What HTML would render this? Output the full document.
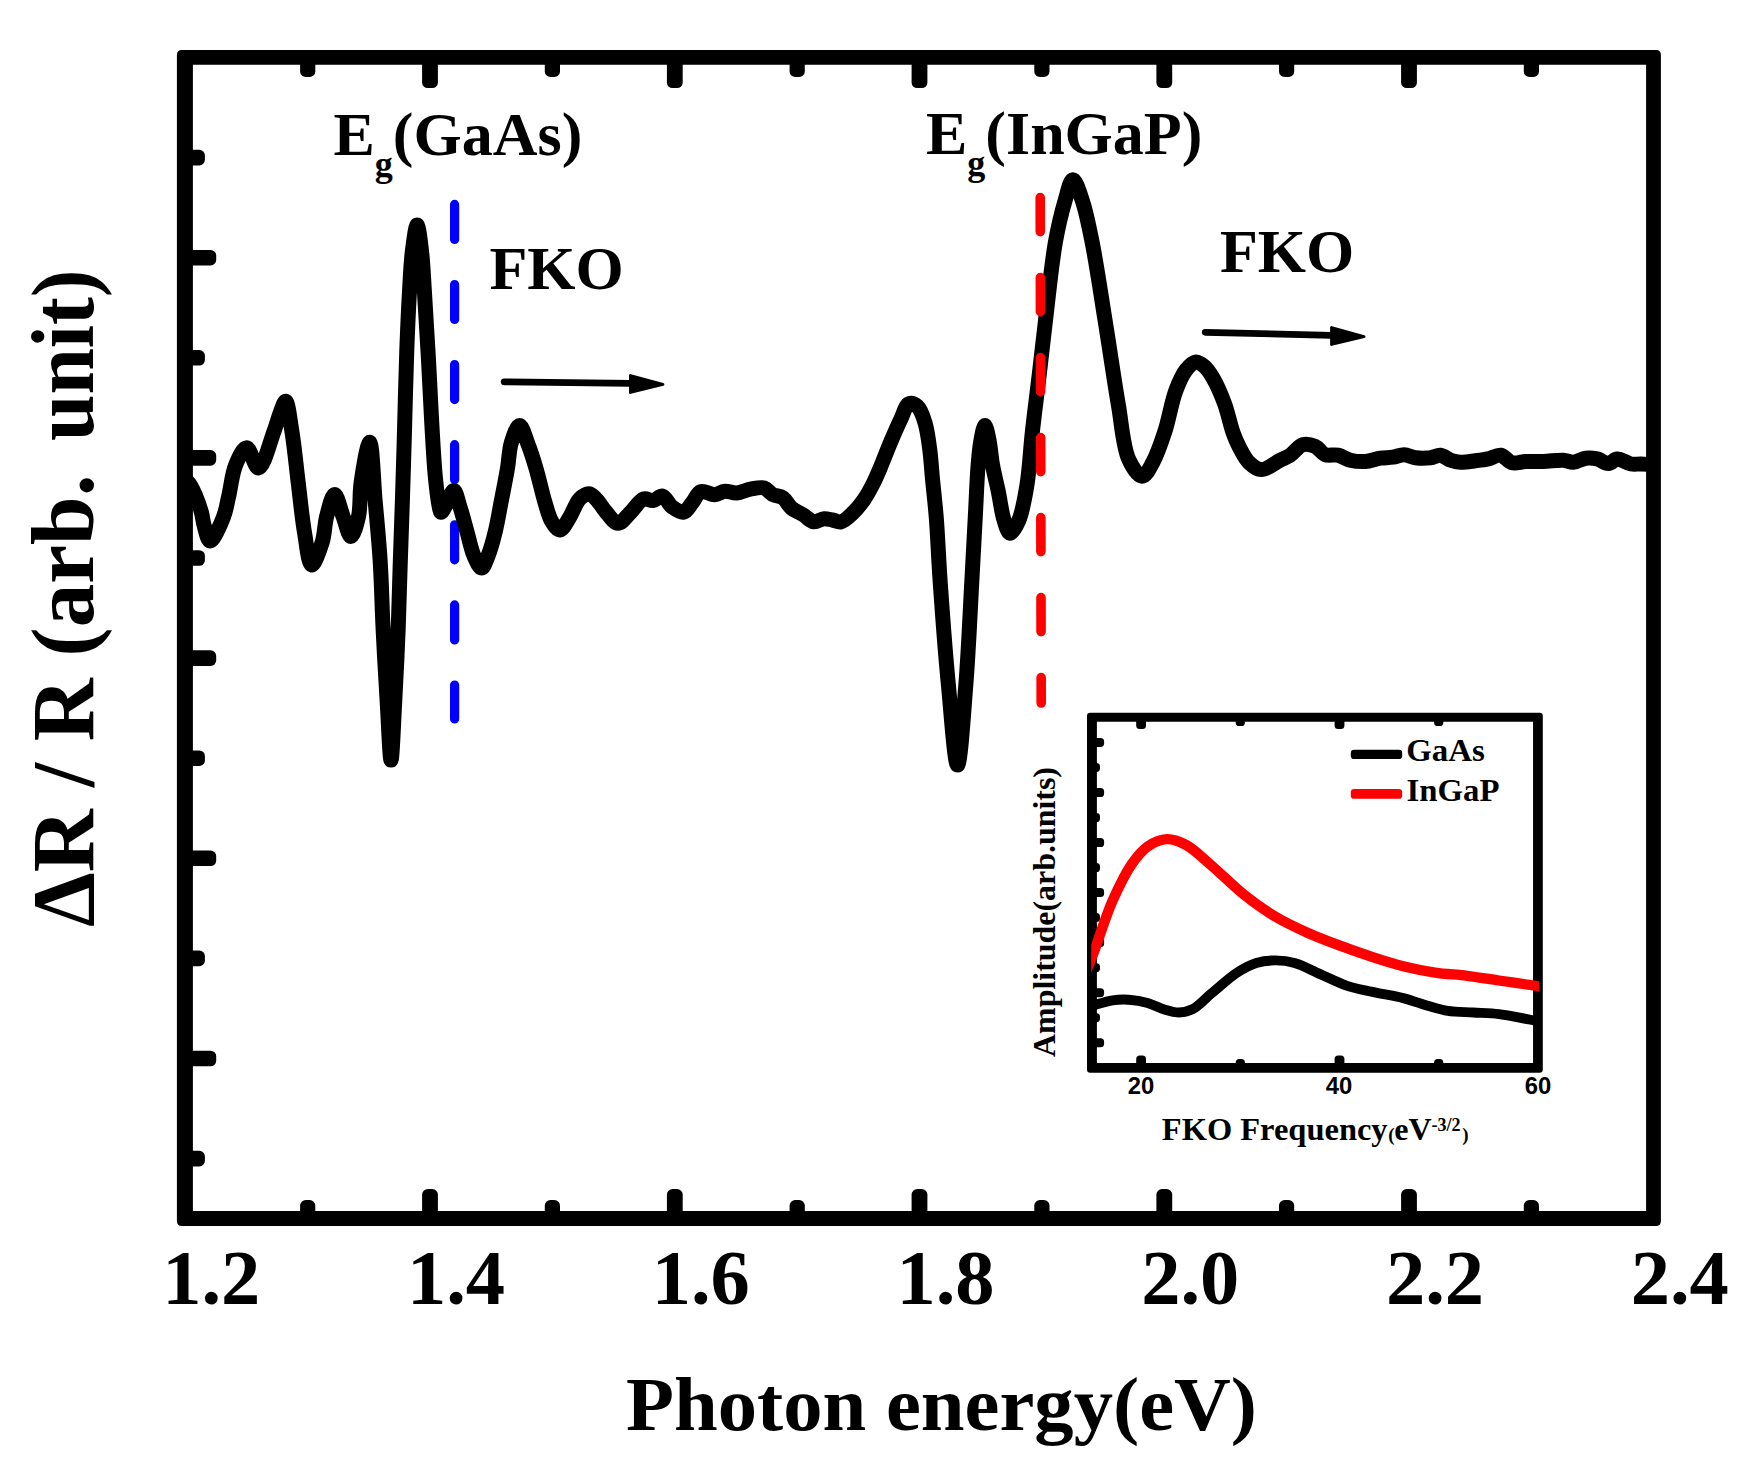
<!DOCTYPE html>
<html lang="en"><head><meta charset="utf-8"><title>Photoreflectance spectrum</title>
<style>html,body{margin:0;padding:0;background:#fff}svg{display:block}text{font-family:"Liberation Serif",serif;font-weight:bold;fill:#000}.ss{font-family:"Liberation Sans",sans-serif}</style></head><body>
<svg width="1756" height="1472" viewBox="0 0 1756 1472">
<rect width="1756" height="1472" fill="#fff"/>
<path fill="#000" fill-rule="evenodd" d="M181.9 49.9H1655.9Q1660.9 49.9 1660.9 54.9V1221Q1660.9 1226 1655.9 1226H181.9Q176.9 1226 176.9 1221V54.9Q176.9 49.9 181.9 49.9Z M192.9 64.8H1646.1V1211H192.9Z"/>
<g fill="#000">
<rect x="300.1" y="55" width="15.2" height="22.0" rx="5.6"/>
<rect x="300.1" y="1200.0" width="15.2" height="21.0" rx="5.6"/>
<rect x="422.1" y="55" width="15.8" height="33.1" rx="5.6"/>
<rect x="422.1" y="1189.0" width="15.8" height="32.0" rx="5.6"/>
<rect x="544.8" y="55" width="15.2" height="22.0" rx="5.6"/>
<rect x="544.8" y="1200.0" width="15.2" height="21.0" rx="5.6"/>
<rect x="666.9" y="55" width="15.8" height="33.1" rx="5.6"/>
<rect x="666.9" y="1189.0" width="15.8" height="32.0" rx="5.6"/>
<rect x="789.6" y="55" width="15.2" height="22.0" rx="5.6"/>
<rect x="789.6" y="1200.0" width="15.2" height="21.0" rx="5.6"/>
<rect x="911.6" y="55" width="15.8" height="33.1" rx="5.6"/>
<rect x="911.6" y="1189.0" width="15.8" height="32.0" rx="5.6"/>
<rect x="1034.3" y="55" width="15.2" height="22.0" rx="5.6"/>
<rect x="1034.3" y="1200.0" width="15.2" height="21.0" rx="5.6"/>
<rect x="1156.4" y="55" width="15.8" height="33.1" rx="5.6"/>
<rect x="1156.4" y="1189.0" width="15.8" height="32.0" rx="5.6"/>
<rect x="1279.0" y="55" width="15.2" height="22.0" rx="5.6"/>
<rect x="1279.0" y="1200.0" width="15.2" height="21.0" rx="5.6"/>
<rect x="1401.1" y="55" width="15.8" height="33.1" rx="5.6"/>
<rect x="1401.1" y="1189.0" width="15.8" height="32.0" rx="5.6"/>
<rect x="1523.8" y="55" width="15.2" height="22.0" rx="5.6"/>
<rect x="1523.8" y="1200.0" width="15.2" height="21.0" rx="5.6"/>
<rect x="182" y="149.8" width="22.9" height="15.6" rx="5.6"/>
<rect x="182" y="249.9" width="34.2" height="15.6" rx="5.6"/>
<rect x="182" y="350.0" width="22.9" height="15.6" rx="5.6"/>
<rect x="182" y="450.1" width="34.2" height="15.6" rx="5.6"/>
<rect x="182" y="550.2" width="22.9" height="15.6" rx="5.6"/>
<rect x="182" y="650.3" width="34.2" height="15.6" rx="5.6"/>
<rect x="182" y="750.4" width="22.9" height="15.6" rx="5.6"/>
<rect x="182" y="850.5" width="34.2" height="15.6" rx="5.6"/>
<rect x="182" y="950.6" width="22.9" height="15.6" rx="5.6"/>
<rect x="182" y="1050.7" width="34.2" height="15.6" rx="5.6"/>
<rect x="182" y="1150.8" width="22.9" height="15.6" rx="5.6"/>
</g>
<path d="M454.6 204.4V719" stroke="#0000ff" stroke-width="9.2" stroke-linecap="round" stroke-dasharray="35 45.1" fill="none"/>
<path d="M185.0 479.0C186.8 481.1 188.8 482.7 190.4 485.2C192.3 488.1 193.8 491.6 195.5 495.5C197.6 500.4 200.0 507.3 201.5 512.6C202.7 517.1 202.8 521.0 204.1 525.4C205.6 530.4 207.4 540.8 210.1 541.0C213.5 541.2 220.5 524.7 223.6 516.7C226.3 509.8 226.9 503.7 228.7 496.2C230.9 487.0 232.0 474.0 235.5 465.4C238.4 458.4 242.9 447.8 246.6 447.8C250.6 447.9 254.6 468.3 258.6 468.0C263.8 467.6 270.1 441.6 274.0 431.3C276.8 423.9 278.3 417.5 280.5 412.0C282.2 407.8 284.1 401.0 285.6 401.2C288.1 401.5 290.0 419.9 291.9 431.3C294.3 446.1 296.1 465.4 298.2 482.5C300.3 499.6 302.1 518.9 304.7 533.8C306.7 545.5 308.4 564.6 311.6 565.0C314.4 565.3 319.7 550.3 322.2 542.3C324.7 534.2 324.5 524.8 326.6 516.7C328.6 508.9 331.8 494.5 334.6 494.5C337.4 494.5 340.4 509.5 343.2 516.7C345.8 523.5 348.3 536.5 350.9 536.5C353.4 536.5 356.8 524.3 358.5 516.7C360.7 507.0 359.4 494.3 361.1 482.5C362.9 469.6 367.4 442.1 369.6 442.2C372.3 442.4 373.4 480.8 375.1 500.4C376.9 520.5 378.9 540.5 380.2 561.5C381.6 583.9 382.0 607.5 383.2 630.9C384.4 655.0 385.9 681.3 387.3 704.0C388.5 723.9 389.8 760.0 391.0 760.0C392.2 760.0 393.5 723.9 394.6 704.0C395.9 681.3 397.1 655.0 398.1 630.9C399.0 607.5 399.6 583.9 400.3 561.5C401.0 540.5 401.7 521.7 402.4 500.4C403.2 477.1 403.9 451.5 404.6 427.0C405.3 402.4 405.8 376.9 406.7 353.0C407.5 330.6 408.6 306.5 409.7 287.9C410.5 273.9 411.0 262.2 412.4 251.0C413.6 241.5 415.6 225.0 417.1 225.0C418.6 225.0 420.4 241.5 421.5 251.0C422.9 262.2 423.3 273.9 424.2 287.9C425.4 306.5 426.6 327.9 428.1 353.0C430.1 387.4 432.6 447.7 435.2 475.4C436.6 489.8 438.1 502.2 439.5 508.0C440.0 510.1 440.2 512.2 441.0 512.3C442.3 512.4 445.0 506.4 447.0 503.0C449.3 499.2 451.7 490.4 453.8 490.5C456.1 490.7 458.0 500.9 460.0 507.0C462.4 514.2 464.5 522.9 466.8 531.0C469.2 539.3 471.0 549.3 474.0 556.0C476.2 560.9 479.2 568.1 481.6 568.0C483.9 567.9 486.0 560.8 488.0 556.0C490.7 549.3 493.3 539.7 495.4 531.0C497.6 521.9 499.1 512.4 501.0 502.5C503.1 491.6 505.7 478.9 507.5 468.3C509.0 459.2 509.0 450.3 511.3 442.7C513.3 436.2 516.8 425.4 519.5 425.4C522.2 425.4 525.0 436.3 527.5 442.7C530.5 450.3 533.3 459.1 536.0 468.3C539.1 478.8 542.0 492.7 545.0 502.5C547.3 510.0 548.9 517.2 552.0 522.0C554.3 525.6 557.3 530.2 560.0 530.0C563.1 529.8 566.3 522.5 569.3 517.9C572.9 512.4 575.6 503.2 579.6 499.1C582.4 496.2 586.1 493.6 589.0 493.8C591.8 494.0 594.5 497.4 597.0 500.0C599.9 503.0 602.0 507.4 605.2 511.0C608.8 515.1 613.7 523.1 618.0 523.2C622.0 523.3 626.0 516.8 630.0 513.0C634.5 508.8 639.2 500.3 643.7 498.9C646.8 497.9 650.0 501.0 653.0 500.6C656.2 500.2 659.6 495.4 662.5 496.0C665.9 496.7 668.2 504.1 671.9 506.8C675.4 509.4 680.4 512.8 683.8 512.1C687.1 511.4 689.3 506.3 692.0 503.0C695.0 499.5 697.1 493.0 700.9 491.6C704.7 490.3 710.4 494.9 714.6 494.7C718.3 494.5 721.2 491.5 724.8 491.2C728.6 490.9 732.7 493.3 736.8 493.0C741.2 492.7 745.8 490.0 750.4 489.2C754.9 488.4 760.3 486.9 764.2 488.0C767.6 489.0 769.6 492.9 772.7 494.5C775.8 496.2 780.0 495.8 783.0 497.9C786.3 500.2 788.1 505.3 791.5 508.1C794.9 511.0 799.7 512.6 803.5 515.0C807.1 517.2 810.2 521.3 813.7 521.8C817.0 522.3 820.7 518.9 824.0 518.7C826.9 518.5 829.7 519.5 832.5 520.0C835.3 520.5 838.1 522.4 841.0 521.8C844.8 521.0 849.3 516.3 853.0 512.8C857.0 509.0 860.6 504.4 864.0 499.6C867.6 494.4 870.7 488.5 873.7 482.5C876.9 476.1 879.7 469.0 882.6 462.0C885.6 454.8 888.5 447.0 891.6 439.8C894.6 432.8 897.7 425.6 900.8 419.3C903.5 413.7 905.5 405.1 909.0 403.7C911.5 402.7 915.1 404.4 917.5 406.5C920.9 409.5 923.1 416.5 925.0 422.7C927.3 430.1 928.4 439.3 929.6 448.3C931.0 458.3 931.5 469.0 932.6 480.0C933.7 491.8 935.1 502.7 936.2 516.7C937.7 535.3 938.5 557.8 940.2 582.0C942.3 612.2 945.2 651.9 948.3 683.9C951.1 712.5 954.6 765.0 957.5 765.0C960.4 765.0 963.6 712.5 965.9 683.9C968.5 651.9 970.1 612.2 971.8 582.0C973.1 557.8 974.2 537.2 975.3 516.7C976.3 498.6 976.9 479.5 978.1 465.4C978.9 455.4 979.6 447.3 981.0 440.0C982.1 434.4 983.6 425.4 984.9 425.4C986.2 425.4 987.8 434.4 989.0 440.0C990.5 447.3 991.1 456.9 992.6 465.4C994.1 473.9 996.4 482.2 998.2 491.0C1000.2 500.4 1001.5 512.3 1004.0 520.0C1005.7 525.4 1007.6 533.0 1010.0 533.2C1012.4 533.4 1016.2 526.4 1018.6 521.0C1022.4 512.6 1024.6 499.0 1026.8 486.0C1029.5 470.0 1030.4 449.6 1032.4 431.7C1034.3 414.2 1036.5 397.7 1038.6 380.0C1040.8 361.5 1042.7 343.7 1045.2 323.0C1048.2 298.2 1051.5 263.9 1055.5 241.5C1058.4 225.5 1061.6 212.1 1065.0 200.8C1067.5 192.5 1070.0 179.8 1072.9 179.7C1075.8 179.6 1079.6 192.5 1082.4 200.8C1086.2 212.0 1088.8 225.5 1092.0 241.5C1096.5 263.9 1101.1 295.8 1105.5 323.0C1109.9 350.2 1114.1 380.2 1118.3 404.6C1121.8 424.6 1122.9 446.4 1128.6 459.0C1132.2 467.0 1138.0 476.3 1142.2 476.3C1146.0 476.3 1149.7 467.9 1153.0 462.0C1157.5 454.0 1161.2 442.7 1164.8 431.7C1168.9 419.2 1171.5 402.2 1175.7 391.0C1178.8 382.7 1182.0 375.1 1186.0 370.0C1189.0 366.2 1192.7 362.2 1196.0 361.9C1198.9 361.6 1201.9 364.2 1204.5 366.5C1207.7 369.3 1210.2 373.2 1213.0 378.0C1216.9 384.7 1221.2 394.6 1224.5 403.5C1227.9 412.7 1230.2 424.6 1233.0 432.5C1235.0 438.1 1236.5 441.8 1239.0 446.5C1241.8 451.8 1244.9 458.6 1249.0 462.5C1252.5 465.9 1256.7 469.5 1261.3 469.6C1266.9 469.8 1274.8 462.8 1280.1 460.2C1284.0 458.3 1286.8 457.4 1290.2 455.2C1294.3 452.5 1298.2 446.0 1302.7 444.7C1306.6 443.6 1311.5 444.8 1315.2 446.4C1319.0 448.1 1321.4 453.2 1325.2 454.7C1328.9 456.1 1333.7 454.3 1337.8 455.2C1342.1 456.1 1345.9 459.1 1350.3 460.2C1355.0 461.3 1360.3 461.8 1365.3 461.5C1370.3 461.2 1375.6 458.9 1380.4 458.2C1384.7 457.6 1388.9 457.8 1392.9 457.2C1396.8 456.6 1400.4 454.6 1404.2 454.7C1408.0 454.8 1411.4 457.2 1415.5 457.7C1420.1 458.3 1426.0 458.2 1430.5 457.7C1434.2 457.2 1437.2 454.8 1440.5 455.2C1443.9 455.6 1447.2 459.0 1450.6 460.2C1453.9 461.3 1456.9 462.0 1460.6 462.2C1465.1 462.4 1470.8 461.3 1475.6 460.7C1480.0 460.2 1484.0 459.8 1488.1 458.9C1492.3 458.0 1496.7 454.6 1500.7 455.2C1504.7 455.8 1507.9 461.6 1512.0 462.7C1516.2 463.8 1520.8 461.7 1525.7 461.5C1531.2 461.3 1537.2 461.7 1543.3 461.5C1549.8 461.3 1557.8 459.8 1563.3 460.2C1567.3 460.5 1569.9 462.4 1573.4 462.2C1577.4 462.0 1581.8 458.7 1585.9 458.2C1589.7 457.7 1593.5 458.1 1597.2 458.9C1601.0 459.8 1604.9 463.7 1608.4 463.5C1611.5 463.4 1613.9 459.1 1617.2 458.9C1621.2 458.6 1626.7 463.2 1631.0 464.0C1634.5 464.6 1637.5 463.9 1641.0 464.0C1644.8 464.1 1649.0 464.5 1653.0 464.7" stroke="#000" stroke-width="15" stroke-linecap="butt" stroke-linejoin="round" fill="none"/>
<path d="M1040.2 197.6L1041.2 703" stroke="#ff0000" stroke-width="9.6" stroke-linecap="round" stroke-dasharray="34 46" fill="none"/>
<path d="M504.2 381.8 L631.0 383.4" stroke="#000" stroke-width="6.8" stroke-linecap="round" fill="none"/><path d="M630.5 375.6 L630.5 392.4 L662.9 384.4 Z" fill="#000" stroke="#000" stroke-width="3" stroke-linejoin="round"/>
<path d="M1205.3 332.3 L1332.1 335.3" stroke="#000" stroke-width="6.8" stroke-linecap="round" fill="none"/><path d="M1331.6 327.6 L1331.6 344.4 L1364.0 336.6 Z" fill="#000" stroke="#000" stroke-width="3" stroke-linejoin="round"/>
<text x="333.5" y="155" font-size="62">E<tspan dy="21" font-size="36">g</tspan><tspan dy="-21">(GaAs)</tspan></text>
<text x="926" y="153.5" font-size="62">E<tspan dy="21" font-size="36">g</tspan><tspan dy="-21">(InGaP)</tspan></text>
<text x="489.5" y="289" font-size="62">FKO</text>
<text x="1220" y="272.2" font-size="62">FKO</text>
<text x="211.3" y="1304" font-size="78.5" text-anchor="middle">1.2</text>
<text x="456.0" y="1304" font-size="78.5" text-anchor="middle">1.4</text>
<text x="700.8" y="1304" font-size="78.5" text-anchor="middle">1.6</text>
<text x="945.5" y="1304" font-size="78.5" text-anchor="middle">1.8</text>
<text x="1190.3" y="1304" font-size="78.5" text-anchor="middle">2.0</text>
<text x="1435.0" y="1304" font-size="78.5" text-anchor="middle">2.2</text>
<text x="1679.7" y="1304" font-size="78.5" text-anchor="middle">2.4</text>
<text x="626" y="1429.5" font-size="76.5" textLength="631" lengthAdjust="spacingAndGlyphs">Photon energy(eV)</text>
<text transform="translate(92.8 927) rotate(-90)" font-size="88" textLength="452.5" lengthAdjust="spacingAndGlyphs">ΔR / R (arb.</text>
<text transform="translate(92.8 441) rotate(-90)" font-size="88" textLength="171.5" lengthAdjust="spacingAndGlyphs">unit)</text>
<rect x="1092" y="717.2" width="445.9" height="350.7" fill="#fff"/>
<path fill="#000" fill-rule="evenodd" d="M1090.2 712.7H1539.6Q1542.8 712.7 1542.8 715.9V1069.55Q1542.8 1072.75 1539.6 1072.75H1090.2Q1087 1072.75 1087 1069.55V715.9Q1087 712.7 1090.2 712.7Z M1096.9 721.7H1533.05V1063H1096.9Z"/>
<g fill="#000">
<rect x="1136.2" y="716" width="9.8" height="13.1" rx="3.6"/>
<rect x="1136.2" y="1055.6" width="9.8" height="13.4" rx="3.6"/>
<rect x="1235.7" y="716" width="9.2" height="10.0" rx="3.6"/>
<rect x="1235.7" y="1058.9" width="9.2" height="10.1" rx="3.6"/>
<rect x="1334.6" y="716" width="9.8" height="13.1" rx="3.6"/>
<rect x="1334.6" y="1055.6" width="9.8" height="13.4" rx="3.6"/>
<rect x="1434.1" y="716" width="9.2" height="10.0" rx="3.6"/>
<rect x="1434.1" y="1058.9" width="9.2" height="10.1" rx="3.6"/>
<rect x="1090" y="737.9" width="14.1" height="9" rx="3.6"/>
<rect x="1090" y="762.9" width="10.0" height="9" rx="3.6"/>
<rect x="1090" y="788.0" width="14.1" height="9" rx="3.6"/>
<rect x="1090" y="813.0" width="10.0" height="9" rx="3.6"/>
<rect x="1090" y="838.0" width="14.1" height="9" rx="3.6"/>
<rect x="1090" y="863.0" width="10.0" height="9" rx="3.6"/>
<rect x="1090" y="888.1" width="14.1" height="9" rx="3.6"/>
<rect x="1090" y="913.1" width="10.0" height="9" rx="3.6"/>
<rect x="1090" y="938.1" width="14.1" height="9" rx="3.6"/>
<rect x="1090" y="963.2" width="10.0" height="9" rx="3.6"/>
<rect x="1090" y="988.2" width="14.1" height="9" rx="3.6"/>
<rect x="1090" y="1013.2" width="10.0" height="9" rx="3.6"/>
<rect x="1090" y="1038.3" width="14.1" height="9" rx="3.6"/>
</g>
<clipPath id="ic"><rect x="1091.2" y="717" width="448" height="351"/></clipPath>
<clipPath id="ib"><rect x="1091.2" y="717" width="443" height="351"/></clipPath>
<path clip-path="url(#ib)" fill="none" stroke-width="9.9" stroke-linejoin="round" d="M1080.0 1009.0C1084.1 1007.9 1087.6 1006.9 1092.2 1005.7C1098.1 1004.1 1106.2 1001.3 1112.6 1000.3C1118.2 999.5 1123.0 999.3 1128.6 999.7C1134.7 1000.1 1141.7 1001.2 1147.7 1002.9C1153.4 1004.5 1158.4 1007.7 1163.7 1009.3C1168.7 1010.8 1173.8 1012.5 1178.7 1012.5C1183.4 1012.5 1187.7 1011.6 1192.4 1009.3C1198.6 1006.2 1204.7 999.0 1211.6 993.3C1219.5 986.8 1228.9 977.9 1237.1 972.6C1243.7 968.3 1249.7 965.0 1256.3 963.0C1262.5 961.1 1269.0 960.4 1275.4 960.4C1281.8 960.4 1287.9 961.0 1294.6 962.9C1302.7 965.1 1311.6 970.4 1320.1 974.1C1328.6 977.8 1337.1 982.3 1345.7 985.3C1354.1 988.2 1362.2 989.7 1371.2 991.7C1381.2 994.0 1393.1 995.5 1403.1 998.1C1412.2 1000.4 1420.8 1003.9 1428.7 1006.1C1435.5 1008.0 1440.9 1009.8 1447.8 1010.9C1455.7 1012.1 1464.9 1012.0 1473.4 1012.5C1481.9 1013.0 1491.0 1013.2 1498.9 1014.1C1505.8 1014.9 1511.7 1016.1 1518.1 1017.3C1524.5 1018.5 1531.5 1020.0 1537.2 1021.1C1541.9 1022.0 1545.7 1022.7 1550.0 1023.5" stroke="#000"/>
<path clip-path="url(#ic)" fill="none" stroke-width="10.3" stroke-linejoin="round" d="M1082.0 981.0C1085.4 972.9 1088.3 966.4 1092.2 956.6C1098.0 941.8 1105.3 917.2 1112.6 900.7C1118.7 887.0 1125.1 873.7 1131.8 864.0C1136.9 856.7 1141.6 850.6 1147.7 846.4C1153.4 842.5 1160.5 839.3 1166.9 839.1C1173.2 838.9 1179.5 841.5 1186.0 844.9C1194.3 849.3 1202.7 858.0 1211.6 865.6C1221.8 874.3 1232.6 885.6 1243.5 894.3C1253.9 902.6 1264.5 910.2 1275.4 916.7C1285.8 922.9 1296.6 927.9 1307.4 932.7C1317.9 937.4 1328.6 941.4 1339.3 945.4C1349.9 949.4 1360.5 953.1 1371.2 956.6C1381.8 960.1 1392.4 963.5 1403.1 966.2C1413.7 968.8 1424.4 971.0 1435.1 972.6C1445.7 974.2 1456.4 974.5 1467.0 975.8C1477.6 977.1 1487.8 978.9 1498.9 980.5C1511.1 982.3 1527.8 984.6 1537.2 986.0C1542.6 986.8 1545.7 987.3 1550.0 988.0" stroke="#ff0000"/>
<rect x="1350.8" y="749.8" width="51.4" height="9.3" rx="3.4" fill="#000"/>
<rect x="1350.8" y="789.1" width="51.4" height="9.7" rx="3.4" fill="#ff0000"/>
<text x="1406.2" y="760.7" font-size="32" textLength="78.6" lengthAdjust="spacingAndGlyphs">GaAs</text>
<text x="1406.6" y="800.8" font-size="32" textLength="92.9" lengthAdjust="spacingAndGlyphs">InGaP</text>
<text class="ss" x="1141.0" y="1093.8" font-size="23.8" text-anchor="middle">20</text>
<text class="ss" x="1339.0" y="1093.8" font-size="23.8" text-anchor="middle">40</text>
<text class="ss" x="1538.0" y="1093.8" font-size="23.8" text-anchor="middle">60</text>
<text x="1161.8" y="1140" font-size="32" textLength="225.8" lengthAdjust="spacingAndGlyphs">FKO Frequency</text>
<text x="1388.2" y="1140.6" font-size="19" font-weight="normal">(</text>
<text x="1394.3" y="1140" font-size="32">eV</text>
<text x="1431.6" y="1131.1" font-size="18">-3/2</text>
<text x="1462.3" y="1140.6" font-size="19" font-weight="normal">)</text>
<text transform="translate(1054.6 1057) rotate(-90)" font-size="32" textLength="290" lengthAdjust="spacingAndGlyphs">Amplitude(arb.units)</text>
</svg></body></html>
